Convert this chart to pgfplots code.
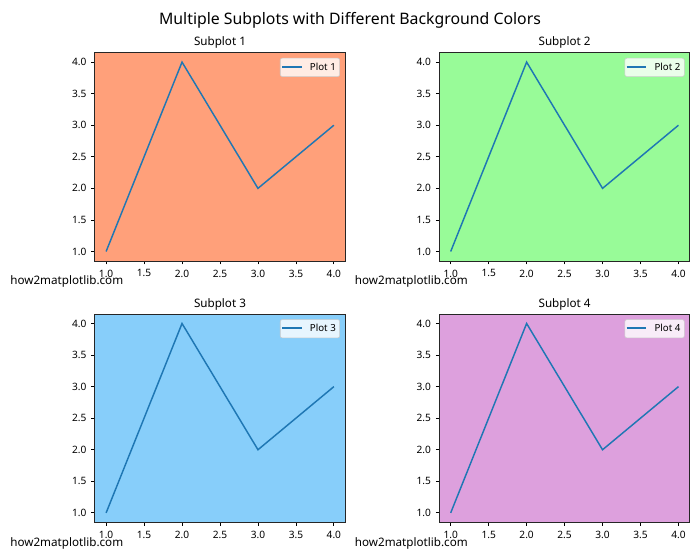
\documentclass[border=0pt]{standalone}
\usepackage{pgfplots}
\usepackage{pgfplotstable}
\pgfplotsset{compat=1.18}
\usepackage{fontspec}
\setmainfont{Noto Sans}
\definecolor{lsalmon}{HTML}{FFA07A}
\definecolor{pgreen}{HTML}{98FB98}
\definecolor{lsky}{HTML}{87CEFA}
\definecolor{plum}{HTML}{DDA0DD}
\definecolor{mplblue}{HTML}{1F77B4}
\pgfplotstableread{
x y
1 1
2 4
3 2
4 3
}\data
\pgfplotsset{
  sub/.style={
    anchor=south west, scale only axis, width=180.4pt, height=150pt,
    xmin=0.85, xmax=4.15, ymin=0.85, ymax=4.15,
    xtick={1,1.5,...,4}, ytick={1,1.5,...,4},
    xtick pos=bottom, ytick pos=left,
    tick align=outside, major tick length=2.45pt,
    tick style={black, line width=0.56pt},
    axis line style={line width=0.56pt, black!85},
    tick label style={font=\fontsize{7.3}{8}\selectfont},
    /pgf/number format/.cd, fixed, fixed zerofill, precision=1, assume math mode=true,
    /pgfplots/.cd,
    xticklabel style={yshift=-0.3pt},
    title style={at={(0.5,1)}, anchor=base, yshift=-1.2pt, font=\fontsize{8.4}{10}\selectfont},
    clip=false,
    legend style={at={(1,1)}, anchor=north east, xshift=-3.8pt, yshift=-3.8pt,
      draw=black!20, rounded corners=1.5pt, fill=white, fill opacity=0.8, text opacity=1,
      font=\fontsize{7}{8}\selectfont, inner xsep=0.8pt, inner ysep=1.2pt},
    legend image code/.code={\draw[##1, line width=1.1pt] (0pt,0.36pt) -- (14pt,0.36pt); \path (17.5pt,0pt);},
  }
}
\newcommand{\subplot}[4]{%
\begin{axis}[sub, at={(#1,#2)}, axis background/.style={fill=#3}, title={Subplot #4}]
\addplot[mplblue, line width=1.05pt] table[x=x,y=y] {\data};
\addlegendentry{Plot #4}
\node[anchor=base west, font=\fontsize{8.4}{10}\selectfont, inner sep=0pt] at (rel axis cs:-0.338,-0.115) {how2matplotlib.com};
\end{axis}}
\begin{document}
\begin{tikzpicture}
\path[use as bounding box] (0,0) rectangle (504pt,403.2pt);
\node[anchor=base, font=\fontsize{11.4}{13}\selectfont] at (252pt,385.9pt) {Multiple Subplots with Different Background Colors};
\subplot{68.2pt}{215.3pt}{lsalmon}{1}
\subplot{316.3pt}{215.3pt}{pgreen}{2}
\subplot{68.2pt}{27.1pt}{lsky}{3}
\subplot{316.3pt}{27.1pt}{plum}{4}
\end{tikzpicture}
\end{document}
